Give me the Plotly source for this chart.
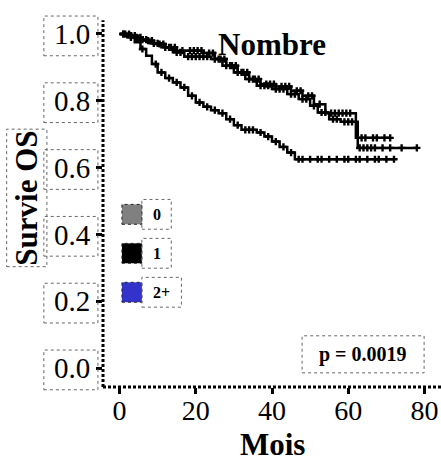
import plotly.graph_objects as go

# ---- data -------------------------------------------------------------
groups = ["0", "1", "2+"]
group_colors = ["#808080", "#000000", "#3333cc"]

# Kaplan-Meier steps (time in months, survival after the step)
g0_time = [0, 2, 5, 8, 11, 14, 17, 24, 27, 30, 33, 36, 40, 44, 47, 50, 52, 55, 58, 62.5]
g0_surv = [1.0, 0.995, 0.983, 0.972, 0.96, 0.945, 0.932, 0.925, 0.905, 0.885, 0.865,
           0.845, 0.835, 0.82, 0.805, 0.785, 0.765, 0.745, 0.737, 0.659]
g0_end = 78
g0_cens = [1, 3, 4, 6, 7, 9, 10, 12, 13, 15, 16, 18, 19, 20, 21, 22, 23, 25, 26, 28,
           29, 31, 32, 34, 35, 37, 38, 39, 41, 42, 43, 45, 46, 48, 49, 51, 53, 54, 56,
           57, 59, 60, 61, 63, 64, 65, 66, 67, 69, 71, 74, 78]

g1_time = [0, 3, 6, 9, 12, 15, 22, 25, 28, 31, 34, 37, 41, 45, 48, 51, 54, 62]
g1_surv = [1.0, 0.99, 0.98, 0.97, 0.96, 0.95, 0.943, 0.925, 0.905, 0.885, 0.865,
           0.85, 0.843, 0.83, 0.815, 0.79, 0.763, 0.689]
g1_end = 71
g1_cens = [1.5, 2.5, 4.5, 5.5, 7.5, 8.5, 10.5, 11.5, 13.5, 14.5, 16.5, 18.5, 19.5, 20.5,
           21.5, 23.5, 24.5, 26.5, 27.5, 29.5, 30.5, 32.5, 33.5, 35.5, 36.5, 38.5, 39.5,
           40.5, 42.5, 43.5, 44.5, 46.5, 47.5, 49.5, 50.5, 52.5, 55.5, 56.5, 57.5, 58.5,
           59.5, 60.5, 63.5, 64.5, 66.5, 67.5, 69.5, 71]

g2_time = [0, 2, 4, 5.5, 7, 8.5, 10, 12, 14, 16, 18, 20, 22, 24, 26, 28, 30, 32, 36,
           38, 40, 42, 44, 46]
g2_surv = [1.0, 0.99, 0.975, 0.955, 0.935, 0.91, 0.885, 0.868, 0.855, 0.84, 0.815,
           0.795, 0.782, 0.772, 0.763, 0.745, 0.727, 0.713, 0.705, 0.693, 0.678,
           0.662, 0.645, 0.625]
g2_end = 72
g2_cens = [1, 3, 6, 9.5, 11, 13, 15, 17, 19, 21, 23, 25, 27, 29, 31, 33, 34, 35, 37,
           39, 41, 43, 45, 47, 48, 50, 52, 53, 55, 57, 59, 60, 62, 63, 65, 67, 68, 70, 72]

x_ticks = [0, 20, 40, 60, 80]
y_ticks = [0.0, 0.2, 0.4, 0.6, 0.8, 1.0]
y_tick_text = ["0.0", "0.2", "0.4", "0.6", "0.8", "1.0"]

title_text = "Nombre"
x_title = "Mois"
y_title = "Survie OS"
p_text = "p = 0.0019"

# ---- helpers ----------------------------------------------------------
X_RANGE = [-4.33, 84.33]
Y_RANGE = [-0.0569, 1.0868]
FONT = "Liberation Serif"


def surv_at(times, survs, t):
    s = survs[0]
    for ti, si in zip(times, survs):
        if ti <= t:
            s = si
    return s


def y_paper(v):
    return (v - Y_RANGE[0]) / (Y_RANGE[1] - Y_RANGE[0])


fig = go.Figure()

curves = [
    (g0_time, g0_surv, g0_end, g0_cens),
    (g1_time, g1_surv, g1_end, g1_cens),
    (g2_time, g2_surv, g2_end, g2_cens),
]
for name, (tt, ss, tend, cens) in zip(groups, curves):
    fig.add_trace(go.Scatter(
        x=list(tt) + [tend], y=list(ss) + [ss[-1]],
        mode="lines", line=dict(color="black", width=2.5, shape="hv"),
        name=name, showlegend=False, hoverinfo="skip"))
    fig.add_trace(go.Scatter(
        x=cens, y=[surv_at(tt, ss, c) for c in cens],
        mode="markers",
        marker=dict(symbol="cross", size=6, color="black"),
        name=name, showlegend=False, hoverinfo="skip"))

shapes = []
# dotted axis lines
shapes.append(dict(type="line", xref="paper", yref="paper", x0=0, x1=0, y0=0, y1=0.96,
                   line=dict(color="black", width=3, dash="3px,2px")))
shapes.append(dict(type="line", xref="paper", yref="paper", x0=0, x1=1, y0=0, y1=0,
                   line=dict(color="black", width=3, dash="3px,2px")))

box_line = dict(color="#666666", width=1, dash="dot")
# boxes around y tick labels
for v in y_ticks:
    yc = y_paper(v) - 0.005
    shapes.append(dict(type="rect", xref="paper", yref="paper",
                       x0=-0.175, x1=-0.015, y0=yc - 0.052, y1=yc + 0.052,
                       line=box_line))
# box around the y title
shapes.append(dict(type="rect", xref="paper", yref="paper",
                   x0=-0.285, x1=-0.166, y0=0.315, y1=0.675, line=box_line))

annotations = []
# legend: coloured squares with boxed labels
leg_y = [0.452, 0.35, 0.248]
for name, col, ly in zip(groups, group_colors, leg_y):
    shapes.append(dict(type="rect", xref="paper", yref="paper",
                       x0=0.056, x1=0.115, y0=ly - 0.026, y1=ly + 0.026,
                       fillcolor=col, line=dict(color="#222222", width=1, dash="dot")))
    wbox = 0.087 if len(name) == 1 else 0.117
    shapes.append(dict(type="rect", xref="paper", yref="paper",
                       x0=0.115, x1=0.115 + wbox, y0=ly - 0.039, y1=ly + 0.039,
                       line=box_line))
    annotations.append(dict(text="<b>%s</b>" % name, xref="paper", yref="paper",
                            x=0.115 + wbox / 2, y=ly, showarrow=False,
                            font=dict(family=FONT, size=16, color="black"),
                            xanchor="center", yanchor="middle"))

# p-value box
shapes.append(dict(type="rect", xref="paper", yref="paper",
                   x0=0.589, x1=0.95, y0=0.037, y1=0.134, line=box_line))
annotations.append(dict(text="<b>%s</b>" % p_text, xref="paper", yref="paper",
                        x=0.77, y=0.085, showarrow=False,
                        font=dict(family=FONT, size=20, color="black"),
                        xanchor="center", yanchor="middle"))

# titles
annotations.append(dict(text="<b>%s</b>" % title_text, xref="paper", yref="paper",
                        x=0.5, y=0.897, showarrow=False,
                        font=dict(family=FONT, size=31, color="black"),
                        xanchor="center", yanchor="middle"))
annotations.append(dict(text="<b>%s</b>" % x_title, xref="paper", yref="paper",
                        x=0.5, y=-0.15, showarrow=False,
                        font=dict(family=FONT, size=31, color="black"),
                        xanchor="center", yanchor="middle"))
annotations.append(dict(text="<b>%s</b>" % y_title, xref="paper", yref="paper",
                        x=-0.2255, y=0.495, showarrow=False, textangle=-90,
                        font=dict(family=FONT, size=31, color="black"),
                        xanchor="center", yanchor="middle"))

fig.update_layout(
    width=441, height=461,
    margin=dict(l=103, r=0, t=5, b=74),
    paper_bgcolor="white", plot_bgcolor="white",
    showlegend=False,
    shapes=shapes, annotations=annotations,
    xaxis=dict(range=X_RANGE, tickvals=x_ticks, ticktext=[str(v) for v in x_ticks],
               showgrid=False, zeroline=False, showline=False,
               ticks="outside", ticklen=6, tickwidth=3, tickcolor="black",
               ticklabelstandoff=-8,
               tickfont=dict(family=FONT, size=28, color="black")),
    yaxis=dict(range=Y_RANGE, tickvals=y_ticks, ticktext=y_tick_text,
               showgrid=False, zeroline=False, showline=False,
               ticks="outside", ticklen=6, tickwidth=3, tickcolor="black",
               tickfont=dict(family=FONT, size=29, color="black")),
)

fig.write_html("out.html")
